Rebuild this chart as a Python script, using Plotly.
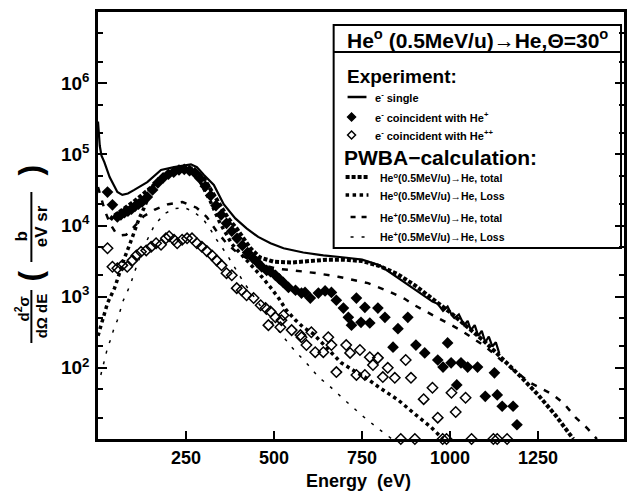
import numpy as np
import plotly.graph_objects as go

# ---------------- data (energy in eV, values as log10 of d2sigma/dOmega dE in b/(eV sr)) -------------
single_E = [0, 2, 5, 10, 18, 33, 55, 69, 85, 103, 140, 179, 216, 264, 281, 301, 329, 357, 390, 422,
            455, 490, 527, 583, 640, 700, 750, 800, 832, 870, 900, 930, 950, 965, 980, 993, 1005, 1012,
            1025, 1040, 1050, 1059, 1070, 1080, 1090, 1100, 1110, 1120, 1130, 1140]
single_log10 = [5.46, 5.3, 5.12, 4.98, 4.89, 4.68, 4.47, 4.43, 4.45, 4.5, 4.61, 4.78, 4.82, 4.86, 4.82,
                4.71, 4.57, 4.3, 4.1, 3.96, 3.84, 3.75, 3.68, 3.62, 3.58, 3.55, 3.52, 3.44, 3.33, 3.2,
                3.1, 3.0, 2.93, 2.9, 2.8, 2.86, 2.74, 2.7, 2.75, 2.6, 2.66, 2.53, 2.6, 2.45, 2.52, 2.36,
                2.44, 2.3, 2.36, 2.2]

he0_total_E = [35, 41, 55, 70, 100, 130, 155, 180, 210, 240, 270, 301, 330, 349, 370, 395, 433, 460, 500,
               550, 600, 650, 700, 750, 800, 850, 900, 950, 1000, 1050, 1100, 1150, 1200, 1250, 1300, 1350]
he0_total_log10 = [4.08, 4.12, 4.17, 4.22, 4.33, 4.45, 4.55, 4.68, 4.76, 4.8, 4.8, 4.66, 4.42, 4.25, 4.1,
                   3.95, 3.68, 3.55, 3.49, 3.48, 3.5, 3.52, 3.52, 3.5, 3.43, 3.32, 3.16, 2.97, 2.78, 2.57,
                   2.36, 2.12, 1.88, 1.62, 1.33, 1.0]

he0_loss_E = [0, 15, 27, 47, 61, 75, 89, 103, 117, 131, 145, 160, 180, 210, 240, 265, 290, 320, 345, 380,
              410, 442, 465, 490, 513, 535, 561, 583, 611, 650, 691, 730, 758, 800, 852, 900, 945, 980]
he0_loss_log10 = [2.45, 2.7, 2.91, 3.12, 3.35, 3.54, 3.72, 3.91, 4.1, 4.25, 4.42, 4.56, 4.67, 4.74, 4.77,
                  4.77, 4.62, 4.33, 4.05, 3.74, 3.58, 3.42, 3.28, 3.13, 2.98, 2.81, 2.67, 2.57, 2.48, 2.28,
                  2.07, 1.95, 1.87, 1.72, 1.55, 1.35, 1.17, 1.0]

hep_total_E = [0, 10, 20, 35, 50, 65, 80, 100, 130, 160, 200, 240, 280, 309, 334, 365, 395, 430, 470, 510,
               555, 620, 682, 767, 823, 871, 899, 936, 973, 1030, 1100, 1154, 1228, 1290, 1323, 1357, 1390, 1417]
hep_total_log10 = [4.54, 4.35, 4.2, 4.02, 3.9, 3.86, 3.87, 3.97, 4.13, 4.22, 4.3, 4.33, 4.25, 4.12, 3.94,
                   3.75, 3.62, 3.52, 3.44, 3.39, 3.37, 3.33, 3.28, 3.19, 3.08, 2.97, 2.88, 2.78, 2.68,
                   2.53, 2.3, 2.07, 1.79, 1.63, 1.5, 1.3, 1.15, 1.0]

hep_loss_E = [8, 18, 27, 36, 44, 55, 64, 72, 80, 94, 104, 130, 160, 190, 220, 245, 270, 300, 320, 337,
              365, 380, 414, 450, 500, 550, 597, 626, 654, 700, 750, 800, 835]
hep_loss_log10 = [1.9, 2.11, 2.28, 2.4, 2.53, 2.67, 2.81, 2.95, 3.03, 3.2, 3.35, 3.7, 4.0, 4.17, 4.24,
                  4.25, 4.2, 4.08, 3.94, 3.8, 3.6, 3.48, 3.2, 2.95, 2.6, 2.29, 2.04, 1.87, 1.76, 1.55,
                  1.33, 1.13, 1.0]

coinc_p_E = [27, 41, 55, 65, 75, 85, 95, 105, 115, 125, 140, 155, 170, 185, 200, 215, 230, 245, 260, 275,
             290, 305, 320, 335, 350, 365, 380, 395, 410, 425, 440, 451, 465, 479, 490, 504, 515, 526, 541,
             561, 578, 588, 603, 626, 645, 663, 677, 697, 711, 720, 734, 747, 758, 772, 795, 815, 838,
             852, 880, 903, 928, 965, 980, 993, 1003, 1019, 1031, 1050, 1078, 1100, 1126, 1134, 1148,
             1179, 1190]
coinc_p_log10 = [4.47, 4.29, 4.12, 4.15, 4.18, 4.2, 4.23, 4.27, 4.3, 4.33, 4.4, 4.5, 4.6, 4.67, 4.72, 4.75,
                 4.78, 4.79, 4.77, 4.74, 4.66, 4.55, 4.42, 4.28, 4.15, 4.03, 3.92, 3.82, 3.72, 3.62, 3.54,
                 3.49, 3.42, 3.37, 3.35, 3.3, 3.25, 3.2, 3.13, 3.09, 3.05, 3.06, 2.98, 3.05, 3.08, 3.06,
                 2.95, 2.84, 2.71, 2.6, 2.98, 2.64, 2.85, 2.63, 2.84, 2.71, 2.29, 2.55, 2.71, 2.32, 2.21,
                 2.11, 2.01, 2.35, 2.07, 1.76, 2.07, 2.01, 2.01, 1.6, 1.93, 1.62, 1.46, 1.46, 1.2]

coinc_pp_E = [27, 41, 55, 69, 83, 98, 109, 122, 137, 151, 165, 179, 193, 202, 216, 225, 239, 253, 267, 281,
              295, 309, 324, 337, 351, 365, 380, 394, 408, 422, 442, 462, 476, 484, 490, 504, 518, 521,
              527, 550, 575, 578, 592, 606, 617, 640, 654, 663, 677, 705, 716, 734, 744, 758, 772, 781,
              795, 809, 823, 843, 874, 889, 925, 950, 965, 1004, 1016, 1044,
              860, 900, 979, 990, 1061, 1123, 1134, 1162]
coinc_pp_log10 = [3.68, 3.42, 3.4, 3.44, 3.42, 3.51, 3.58, 3.63, 3.65, 3.7, 3.75, 3.73, 3.82, 3.85, 3.8,
                  3.75, 3.8, 3.82, 3.82, 3.75, 3.7, 3.64, 3.58, 3.51, 3.44, 3.33, 3.3, 3.12, 3.09, 3.02,
                  2.98, 2.88, 2.84, 2.6, 2.79, 2.71, 2.57, 2.67, 2.74, 2.53, 2.46, 2.43, 2.32, 2.5, 2.22,
                  2.22, 2.43, 2.32, 1.94, 2.32, 2.21, 1.9, 2.25, 1.9, 2.15, 2.04, 2.14, 1.87, 2.0, 1.86,
                  2.11, 1.86, 1.56, 1.72, 1.3, 1.65, 1.38, 1.58,
                  1.0, 1.0, 1.0, 1.0, 1.0, 1.0, 1.0, 1.0]

x_tick_vals = [250, 500, 750, 1000, 1250]
y_tick_vals = [1e2, 1e3, 1e4, 1e5, 1e6]
y_tick_text = ["10<sup>2</sup>", "10<sup>3</sup>", "10<sup>4</sup>", "10<sup>5</sup>", "10<sup>6</sup>"]


def lin(v):
    return np.power(10.0, np.array(v, dtype=float))


FONT = "Liberation Sans"
fig = go.Figure()

fig.add_trace(go.Scatter(x=he0_total_E, y=lin(he0_total_log10), mode="lines",
                         line=dict(color="black", width=4, dash="4px,2px")))
fig.add_trace(go.Scatter(x=he0_loss_E, y=lin(he0_loss_log10), mode="lines",
                         line=dict(color="black", width=3.5, dash="3.5px,3.5px")))
fig.add_trace(go.Scatter(x=hep_total_E, y=lin(hep_total_log10), mode="lines",
                         line=dict(color="black", width=2.5, dash="6px,8px")))
fig.add_trace(go.Scatter(x=hep_loss_E, y=lin(hep_loss_log10), mode="lines",
                         line=dict(color="black", width=1.5, dash="3px,8px")))
fig.add_trace(go.Scatter(x=single_E, y=lin(single_log10), mode="lines",
                         line=dict(color="black", width=2.2)))
fig.add_trace(go.Scatter(x=coinc_p_E, y=lin(coinc_p_log10), mode="markers", cliponaxis=False,
                         marker=dict(symbol="diamond", size=9, color="black")))
fig.add_trace(go.Scatter(x=coinc_pp_E, y=lin(coinc_pp_log10), mode="markers", cliponaxis=False,
                         marker=dict(symbol="diamond-open", size=8, color="black",
                                     line=dict(width=1.5, color="black"))))

# ---------------- layout ----------------
L, R, T, B = 98, 4, 12, 53
W, H = 631, 492
PW, PH = W - L - R, H - T - B


def xp(px):
    return (px - L) / PW


def yp(py):
    return (H - B - py) / PH


fig.update_layout(
    width=W, height=H, margin=dict(l=L, r=R, t=T, b=B),
    plot_bgcolor="white", paper_bgcolor="white", showlegend=False,
    font=dict(family=FONT, color="black"),
    xaxis=dict(range=[0, 1494], showline=True, linewidth=2.5, linecolor="black", mirror=True,
               ticks="inside", ticklen=8, tickwidth=2, tickcolor="black",
               tickvals=x_tick_vals, ticklabelstandoff=1,
               tickfont=dict(family=FONT, size=18, color="black", weight="bold"),
               showgrid=False, zeroline=False),
    yaxis=dict(type="log", range=[1, 7], showline=True, linewidth=2.5, linecolor="black",
               mirror="allticks", ticks="inside", ticklen=9, tickwidth=2, tickcolor="black",
               tickvals=y_tick_vals, ticktext=y_tick_text, ticklabelstandoff=2,
               tickfont=dict(family=FONT, size=19, color="black", weight="bold"),
               minor=dict(ticks="inside", ticklen=5, tickwidth=1.5, tickcolor="black", dtick="D2",
                          showgrid=False),
               showgrid=False, zeroline=False),
)

shapes = []
annos = []


def text(px, py, s, size, anchor="left", angle=0):
    annos.append(dict(x=xp(px), y=yp(py), xref="paper", yref="paper", text=s, showarrow=False,
                      xanchor=anchor, yanchor="middle", textangle=angle,
                      font=dict(family=FONT, size=size, color="black", weight="bold")))


def hline(x0, x1, py, width, dash="solid"):
    shapes.append(dict(type="line", xref="paper", yref="paper", x0=xp(x0), x1=xp(x1), y0=yp(py),
                       y1=yp(py), line=dict(color="black", width=width, dash=dash)))


def vline(px, y0, y1, width):
    shapes.append(dict(type="line", xref="paper", yref="paper", x0=xp(px), x1=xp(px), y0=yp(y0),
                       y1=yp(y1), line=dict(color="black", width=width)))


def diamond(cx, cy, r, filled):
    path = "M {} {} L {} {} L {} {} L {} {} Z".format(xp(cx - r), yp(cy), xp(cx), yp(cy - r),
                                                        xp(cx + r), yp(cy), xp(cx), yp(cy + r))
    shapes.append(dict(type="path", xref="paper", yref="paper", path=path,
                       fillcolor="black" if filled else "white",
                       line=dict(color="black", width=1.5)))


# legend box
shapes.append(dict(type="rect", xref="paper", yref="paper", x0=xp(335), x1=xp(624), y0=yp(248),
                   y1=yp(25), line=dict(color="black", width=2), fillcolor="rgba(0,0,0,0)"))
hline(335, 624, 52, 2)
text(480, 39, "He<sup>o</sup> (0.5MeV/u)→He,Θ=30<sup>o</sup>", 21, anchor="center")
text(346, 77, "Experiment:", 19)
hline(349, 368, 97, 2.5)
text(375, 97, "e<sup>-</sup> single", 11)
diamond(353, 117, 4, True)
text(375, 117, "e<sup>-</sup> coincident with He<sup>+</sup>", 11)
diamond(353, 135, 4, False)
text(375, 135, "e<sup>-</sup> coincident with He<sup>++</sup>", 11)
text(343, 157, "PWBA−calculation:", 21)
hline(347, 370, 177, 4, "4px,2px")
text(380, 177, "He<sup>o</sup>(0.5MeV/u)→He, total", 10.5)
hline(347, 370, 195, 3.5, "3.5px,3.5px")
text(380, 195, "He<sup>o</sup>(0.5MeV/u)→He, Loss", 10.5)
hline(352, 369, 217, 2.5, "5px,6px")
text(380, 217, "He<sup>+</sup>(0.5MeV/u)→He, total", 10.5)
hline(352, 369, 237, 1.5, "3px,8px")
text(380, 237, "He<sup>+</sup>(0.5MeV/u)→He, Loss", 10.5)

# axis titles
text(360, 481, "Energy\u00a0\u00a0(eV)", 18, anchor="center")
text(21, 309, "d<sup>2</sup>σ", 15, anchor="center", angle=-90)
text(41, 316, "dΩ dE", 15, anchor="center", angle=-90)
vline(31, 290, 343, 2)
text(30, 276, "(", 32, anchor="center", angle=-90)
text(21, 236, "b", 17, anchor="center", angle=-90)
text(41, 226, "eV sr", 17, anchor="center", angle=-90)
vline(31, 192, 262, 2)
text(30, 170, ")", 32, anchor="center", angle=-90)

fig.update_layout(shapes=shapes, annotations=annos)
fig.write_html("out.html")
